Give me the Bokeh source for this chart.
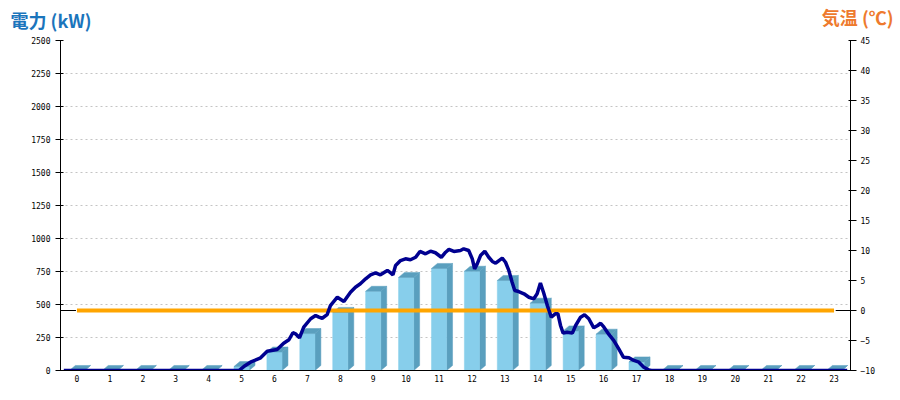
from bokeh.plotting import figure
from bokeh.models import Range1d, LinearAxis, FixedTicker, Title
from bokeh.embed import file_html
from bokeh.resources import INLINE

# ---- data ----
hours = [0, 1, 2, 3, 4, 5, 6, 7, 8, 9, 10, 11, 12, 13, 14, 15, 16, 17, 18, 19, 20, 21, 22, 23]
bar_kw = [0, 0, 0, 0, 0, 30, 140, 280, 440, 600, 705, 773, 752, 682, 510, 300, 275, 65, 0, 0, 0, 0, 0, 0]
temp_c = [0, 0, 0, 0, 0, 0, 0, 0, 0, 0, 0, 0, 0, 0, 0, 0, 0, 0, 0, 0, 0, 0, 0, 0]

line_t = [0.1, 5.42, 5.57, 5.77, 6.08, 6.28, 6.58, 6.78, 6.94, 7.06, 7.14, 7.26, 7.39, 7.60, 7.75, 7.85,
          7.95, 8.10, 8.20, 8.41, 8.61, 8.81, 8.96, 9.11, 9.27, 9.42, 9.57, 9.72, 9.93, 10.03, 10.10,
          10.18, 10.33, 10.48, 10.63, 10.79, 10.92, 11.09, 11.24, 11.39, 11.57, 11.70, 11.80, 11.95,
          12.15, 12.25, 12.40, 12.51, 12.58, 12.66, 12.76, 12.89, 13.01, 13.12, 13.22, 13.32, 13.42,
          13.52, 13.62, 13.72, 13.80, 13.92, 14.08, 14.23, 14.38, 14.48, 14.58, 14.68, 14.79, 14.91,
          15.04, 15.11, 15.19, 15.27, 15.39, 15.55, 15.65, 15.80, 15.92, 16.05, 16.20, 16.32, 16.41,
          16.51, 16.66, 16.81, 16.96, 17.10, 17.27, 17.42, 17.57, 17.72, 17.87, 17.95, 23.9]
line_kw = [0, 0, 30, 63, 96, 146, 159, 207, 233, 286, 278, 248, 328, 392, 417, 404,
           396, 424, 492, 555, 523, 593, 631, 657, 695, 725, 740, 725, 758, 740, 725,
           795, 833, 846, 839, 858, 902, 884, 904, 892, 858, 896, 917, 902,
           909, 922, 909, 846, 770, 808, 871, 904, 858, 826, 813, 833, 851,
           820, 758, 669, 606, 598, 581, 555, 543, 581, 663, 587, 492, 404,
           430, 430, 341, 283, 290, 283, 341, 404, 422, 392, 323, 341, 358,
           328, 273, 227, 164, 101, 96, 76, 63, 25, 5, 0, 0]

kw_ticks = [0, 250, 500, 750, 1000, 1250, 1500, 1750, 2000, 2250, 2500]
temp_ticks = [-10, -5, 0, 5, 10, 15, 20, 25, 30, 35, 40, 45]

# ---- style ----
BAR_W = 0.46
DX = 0.18   # 3D depth in hours
DY = 38     # 3D depth in kW
FRONT = "#87CEEB"
SIDE = "#5A9FBE"
TICK_FONT = "DejaVu Sans Mono"

p = figure(width=898, height=398, output_backend="svg", toolbar_location=None,
           x_range=Range1d(-0.5, 23.5), y_range=Range1d(0, 2500),
           min_border_left=60, min_border_right=48, min_border_top=40, min_border_bottom=28)
p.extra_y_ranges = {"temp": Range1d(-10, 45)}
p.outline_line_color = None
p.background_fill_color = "white"
p.border_fill_color = "white"

# grid
p.xgrid.visible = False
p.ygrid.ticker = FixedTicker(ticks=kw_ticks)
p.ygrid.grid_line_color = "#c4c4c4"
p.ygrid.grid_line_dash = "2 3"
p.ygrid.grid_line_width = 1

# 3D bars
side_xs, side_ys, top_xs, top_ys = [], [], [], []
for h, v in zip(hours, bar_kw):
    r = h + BAR_W / 2
    l = h - BAR_W / 2
    side_xs.append([r, r + DX, r + DX, r])
    side_ys.append([0, DY, v + DY, v])
    top_xs.append([l, r, r + DX, l + DX])
    top_ys.append([v, v, v + DY, v + DY])
p.patches(side_xs, side_ys, fill_color=SIDE, line_color=SIDE, line_width=0.5)
p.vbar(x=hours, top=bar_kw, bottom=0, width=BAR_W, fill_color=FRONT, line_color=FRONT, line_width=0.5)
p.patches(top_xs, top_ys, fill_color=SIDE, line_color=SIDE, line_width=0.5)

# temperature line
p.line(hours, temp_c, y_range_name="temp", line_color="#FFA500", line_width=4)
p.segment(x0=[-0.5, 23.05], y0=[temp_c[0], temp_c[-1]], x1=[-0.03, 23.5], y1=[temp_c[0], temp_c[-1]],
          y_range_name="temp", line_color="black", line_width=1)

# power line
p.line([t - 0.5 for t in line_t], line_kw, line_color="#000090", line_width=3.5)

# axes
p.xaxis.ticker = FixedTicker(ticks=hours)
p.xaxis.major_tick_out = 0
p.xaxis.major_tick_in = 0
p.xaxis.minor_tick_line_color = None
p.xaxis.axis_line_color = "black"
p.xaxis.major_label_text_font = TICK_FONT
p.xaxis.major_label_text_font_size = "8px"
p.xaxis.major_label_text_color = "black"
p.xaxis.major_label_standoff = 4

p.yaxis.ticker = FixedTicker(ticks=kw_ticks)
p.yaxis.major_tick_out = 5
p.yaxis.major_tick_in = 3
p.yaxis.minor_tick_line_color = None
p.yaxis.axis_line_color = "black"
p.yaxis.major_label_text_font = TICK_FONT
p.yaxis.major_label_text_font_size = "8px"
p.yaxis.major_label_text_color = "black"
p.yaxis.major_label_standoff = 5

ra = LinearAxis(y_range_name="temp", ticker=FixedTicker(ticks=temp_ticks))
ra.major_tick_out = 6
ra.major_tick_in = 2
ra.minor_tick_line_color = None
ra.axis_line_color = "black"
ra.major_label_text_font = TICK_FONT
ra.major_label_text_font_size = "8px"
ra.major_label_text_color = "black"
ra.major_label_standoff = 4
p.add_layout(ra, "right")

# titles (two on one line at the top)
t_left = Title(text="電力 (kW)", align="left", offset=-50, standoff=12, vertical_align="top",
               text_font="Noto Sans CJK JP", text_font_style="bold", text_font_size="18px",
               text_color="#1B75BC")
t_right = Title(text="気温 (℃)", align="right", offset=-43, standoff=-59, vertical_align="bottom",
                text_font="Noto Sans CJK JP", text_font_style="bold", text_font_size="18px",
                text_color="#EE7A2D")
p.add_layout(t_left, "above")
p.add_layout(t_right, "above")

open("out.html", "w").write(file_html(p, INLINE))
